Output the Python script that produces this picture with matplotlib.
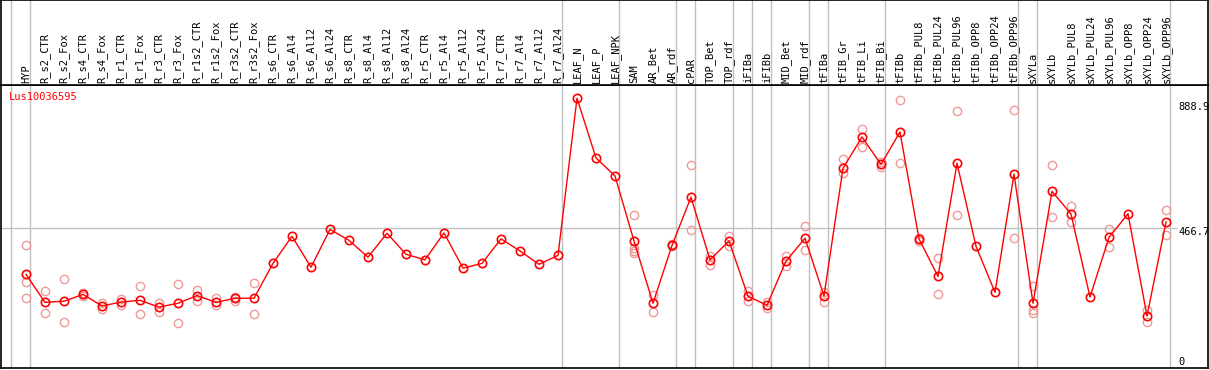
import numpy as np
import matplotlib
matplotlib.use("Agg")
import matplotlib.pyplot as plt

# sample labels (left to right)
samples = ["HYP",
           "R_s2_CTR", "R_s2_Fox", "R_s4_CTR", "R_s4_Fox", "R_r1_CTR", "R_r1_Fox",
           "R_r3_CTR", "R_r3_Fox", "R_r1s2_CTR", "R_r1s2_Fox", "R_r3s2_CTR", "R_r3s2_Fox",
           "R_s6_CTR", "R_s6_Al4", "R_s6_Al12", "R_s6_Al24",
           "R_s8_CTR", "R_s8_Al4", "R_s8_Al12", "R_s8_Al24",
           "R_r5_CTR", "R_r5_Al4", "R_r5_Al12", "R_r5_Al24",
           "R_r7_CTR", "R_r7_Al4", "R_r7_Al12", "R_r7_Al24",
           "LEAF_N", "LEAF_P", "LEAF_NPK",
           "SAM", "AR_Bet", "AR_rdf", "cPAR", "TOP_Bet", "TOP_rdf",
           "iFIBa", "iFIBb", "MID_Bet", "MID_rdf", "tFIBa",
           "tFIB_Gr", "tFIB_Li", "tFIB_Bi",
           "tFIBb", "tFIBb_PUL8", "tFIBb_PUL24", "tFIBb_PUL96",
           "tFIBb_OPP8", "tFIBb_OPP24", "tFIBb_OPP96",
           "sXYLa", "sXYLb", "sXYLb_PUL8", "sXYLb_PUL24", "sXYLb_PUL96",
           "sXYLb_OPP8", "sXYLb_OPP24", "sXYLb_OPP96"]

# size of each sample group (gray separators between groups)
group_sizes = [1, 28, 3, 3, 1, 2, 1, 1, 2, 1, 3, 7, 1, 7]

# mean expression per sample
means = [311, 216, 220, 243, 204, 217, 223, 200, 213, 239,
         216, 230, 230, 348, 440, 335, 463, 426, 369, 450,
         379, 360, 451, 332, 348, 431, 390, 345, 375,
         907, 705, 644,
         424, 213, 409, 572, 360, 424,
         237, 206, 356, 433, 238,
         670, 776, 683,
         793, 431, 304, 687, 406, 250, 650,
         213, 592, 515, 234, 436, 516, 170, 488]

# replicate values per sample
replicates = [[409, 286, 230],
              [253, 179], [294, 149], [238, 248], [213, 194], [226, 207], [270, 176],
              [213, 184], [277, 145], [258, 221], [230, 207], [235, 221], [283, 176],
              [], [], [], [], [], [], [], [], [], [], [], [], [], [], [], [],
              [], [], [],
              [512, 399, 391, 382], [241, 185], [412, 406], [681, 460], [374, 343], [442, 406],
              [255, 222], [216, 198], [372, 339], [474, 392], [252, 219],
              [701, 655], [803, 741], [692, 674],
              [901, 687], [435, 424], [365, 243], [864, 512], [], [], [866, 433],
              [273, 190, 179], [681, 505], [541, 488], [], [464, 405], [], [189, 149], [528, 443]]

gene = "Lus10036595"
ytick_labels = ["888.9", "466.7", "0"]
ytick_values = [888.9, 466.7, 0]

W, H = 1209, 370
fig = plt.figure(figsize=(W / 100, H / 100), dpi=100)
mono = "DejaVu Sans Mono"
grey = "#c0c0c0"
fs = 7.5

x = np.arange(len(samples))
xlim = (-25 / 19, 1182 / 19)

# plot area
ax = fig.add_axes([1 / W, 2 / H, 1207 / W, 283 / H])
ax.set_xlim(*xlim)
ax.set_ylim(-6.1, 951.9)
ax.set_xticks([])
ax.set_yticks([])
for s in ax.spines.values():
    s.set_color("black")
    s.set_linewidth(1.2)

# label area
axl = fig.add_axes([1 / W, 285 / H, 1207 / W, 85 / H])
axl.set_xlim(*xlim)
axl.set_ylim(0, 1)
axl.set_xticks([])
axl.set_yticks([])
for s in axl.spines.values():
    s.set_color("black")
    s.set_linewidth(1.2)

# group separators
bounds = np.concatenate([[0], np.cumsum(group_sizes)]) - 1 + 0.23
for b in bounds:
    ax.axvline(b, color=grey, lw=1.0, zorder=0)
    axl.axvline(b, color=grey, lw=1.0, zorder=0)

ax.plot([xlim[0], (1176 - 26) / 19], [466.7, 466.7], color=grey, lw=1.0, zorder=0)

for i, lab in enumerate(samples):
    axl.text(i, 0.02, lab, rotation=90, ha="center", va="bottom",
             fontsize=fs, family=mono)

# replicates
rx = [i for i, r in enumerate(replicates) for _ in r]
ry = [v for r in replicates for v in r]
ax.plot(rx, ry, ls="none", marker="o", ms=6.0, mfc="none", mec="#ef9a9a", mew=1.0, zorder=2)

# means
ax.plot(x, means, color="#ff0000", lw=1.0, marker="o", ms=6.0, mfc="none",
        mec="#ff0000", mew=1.2, zorder=3)

ax.text(8 / 1207, 1 - 12 / 283, gene, transform=ax.transAxes, color="#ff0000",
        fontsize=fs, family=mono, ha="left", va="center")

xr = (1178 - 26) / 19
for lab, v in zip(ytick_labels, ytick_values):
    yy = max(v - 11.5, 15)
    ax.text(xr, yy, lab, fontsize=fs, family=mono, ha="left", va="center")

fig.savefig("out.png", dpi=100)
